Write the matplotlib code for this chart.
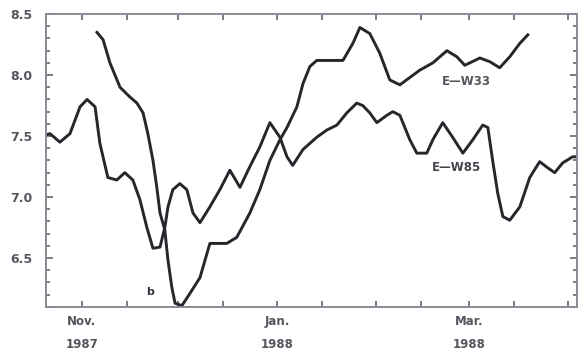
#!/usr/bin/env python

import matplotlib
matplotlib.use("Agg")
import matplotlib.pyplot as plt
from matplotlib.ticker import MultipleLocator, FixedLocator

# days counted from 1 Nov 1987
ew33_day = [4.7, 6.6, 8.75, 11.9, 15.0, 17.2, 19.1, 20.6, 22.2, 23.4, 24.4, 25.9, 26.9,
            28.1, 29.1, 31.25, 33.75, 36.9, 40.0, 43.1, 45.3, 48.4, 52.5, 55.6, 58.75,
            61.9, 64.1, 67.2, 69.1, 71.25, 73.4, 81.6, 84.7, 86.9, 90.0, 93.1, 96.25,
            99.4, 105.6, 109.7, 114.1, 117.2, 119.7, 124.4, 127.5, 130.6, 133.75, 136.9, 139.4]
ew33_val = [8.35, 8.29, 8.10, 7.90, 7.82, 7.77, 7.69, 7.52, 7.30, 7.08, 6.87, 6.73, 6.48,
            6.26, 6.13, 6.11, 6.21, 6.34, 6.62, 6.62, 6.62, 6.67, 6.87, 7.06, 7.30,
            7.47, 7.57, 7.74, 7.93, 8.07, 8.12, 8.12, 8.26, 8.39, 8.34, 8.18, 7.96,
            7.92, 8.04, 8.10, 8.20, 8.15, 8.08, 8.14, 8.11, 8.06, 8.15, 8.26, 8.33]

ew85_day = [-11.25, -10.0, -6.9, -3.75, -0.6, 1.6, 4.1, 5.6, 8.1, 10.9, 13.4, 15.9, 18.1,
            20.3, 22.2, 24.4, 25.9, 26.9, 28.4, 30.6, 32.8, 34.7, 36.9, 40.0, 43.1, 46.25,
            49.4, 52.5, 55.6, 58.75, 61.9, 64.1, 65.9, 69.1, 73.4, 76.6, 79.7, 82.8, 85.9,
            87.8, 90.0, 92.2, 95.3, 97.2, 99.4, 102.5, 104.7, 107.8, 109.7, 112.8, 115.9,
            119.1, 122.2, 125.3, 126.9, 128.4, 130.0, 131.6, 133.75, 136.9, 140.0, 143.1,
            145.6, 147.8, 150.3, 153.4, 154.7]
ew85_val = [7.51, 7.52, 7.45, 7.52, 7.74, 7.80, 7.74, 7.44, 7.16, 7.14, 7.20, 7.14, 6.98,
            6.75, 6.58, 6.59, 6.75, 6.92, 7.06, 7.11, 7.06, 6.87, 6.79, 6.92, 7.06, 7.22,
            7.08, 7.25, 7.41, 7.61, 7.49, 7.33, 7.26, 7.39, 7.49, 7.55, 7.59, 7.69, 7.77,
            7.75, 7.69, 7.61, 7.67, 7.70, 7.67, 7.47, 7.36, 7.36, 7.47, 7.61, 7.49,
            7.36, 7.47, 7.59, 7.57, 7.30, 7.03, 6.84, 6.81, 6.92, 7.16, 7.29,
            7.24, 7.20, 7.28, 7.33, 7.33]

# half-month ticks: Nov 1, Nov 15, ... Apr 1
tick_days = [0, 14, 30, 44, 61, 75, 92, 106, 121, 135, 152]
label_days = [0, 61, 121]
label_text = ["Nov.\n1987", "Jan.\n1988", "Mar.\n1988"]
y_labels = ["6.5", "7.0", "7.5", "8.0", "8.5"]


def main():
    fig = plt.figure(figsize=(5.82, 3.61), dpi=100)
    ax = fig.add_axes([0.079, 0.150, 0.912, 0.811])
    ink = "#26262c"

    ax.plot(ew33_day, ew33_val, color=ink, lw=2.1, solid_joinstyle="round")
    ax.plot(ew85_day, ew85_val, color=ink, lw=2.1, solid_joinstyle="round")

    ax.set_xlim(-11.25, 154.7)
    ax.set_ylim(6.1, 8.5)

    ax.xaxis.set_major_locator(FixedLocator(tick_days))
    ax.set_xticklabels([""] * len(tick_days))
    for d, t in zip(label_days, label_text):
        ax.text(d, 6.1 - 0.07, t, ha="center", va="top", fontsize=8.5,
                fontweight="bold", color="#55555f", linespacing=2.0)

    ax.yaxis.set_major_locator(FixedLocator([6.5, 7.0, 7.5, 8.0, 8.5]))
    ax.set_yticklabels(y_labels)
    ax.yaxis.set_minor_locator(MultipleLocator(0.1))
    ax.tick_params(axis="both", which="both", direction="in", top=True, right=True,
                   color="#666670", width=1.2)
    ax.tick_params(axis="x", which="major", length=4, pad=2)
    ax.tick_params(axis="y", which="major", length=5, labelsize=9, labelcolor="#55555f", pad=10)
    ax.tick_params(axis="y", which="minor", length=3)
    for lbl in ax.get_yticklabels():
        lbl.set_fontweight("bold")

    for s in ax.spines.values():
        s.set_color("#8a8a96")
        s.set_linewidth(1.4)

    ax.text(120.3, 7.95, "E\u2014W33", fontsize=8.5, color="#55555f",
            ha="center", va="center", fontweight="bold")
    ax.text(117.0, 7.24, "E\u2014W85", fontsize=8.5, color="#44444e",
            ha="center", va="center", fontweight="bold")
    ax.text(21.25, 6.22, "b", fontsize=8, color="#333340", ha="center", va="center",
            fontweight="bold")

    fig.savefig("out.png", dpi=100)


if __name__ == "__main__":
    main()
